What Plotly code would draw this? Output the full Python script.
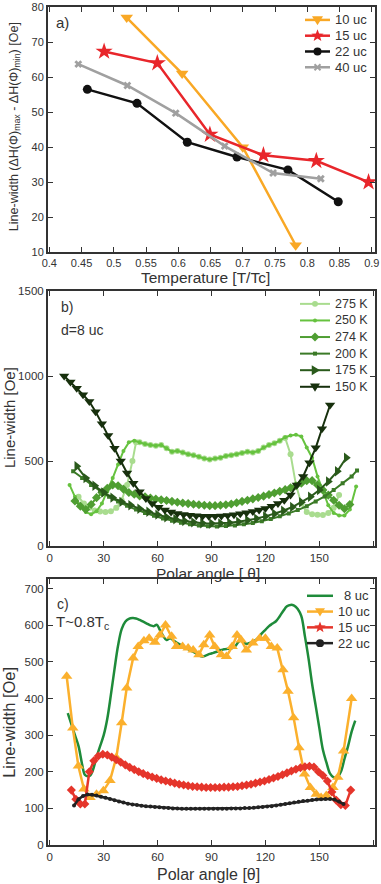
import math
import plotly.graph_objects as go

# ---------------- Panel a data ----------------
t_10uc = [0.52, 0.606, 0.70, 0.782]
dlw_10uc = [77, 61, 40, 12]
t_15uc = [0.485, 0.5675, 0.649, 0.732, 0.814, 0.895]
dlw_15uc = [67.3, 64, 43.6, 37.7, 36.1, 30]
t_22uc = [0.459, 0.536, 0.614, 0.691, 0.770, 0.848]
dlw_22uc = [56.5, 52.5, 41.4, 37.2, 33.5, 24.4]
t_40uc = [0.445, 0.521, 0.596, 0.672, 0.747, 0.821]
dlw_40uc = [63.7, 57.6, 49.7, 40.3, 32.6, 31]

# ---------------- Panel b data (d = 8 uc) ----------------
ang_275 = [16, 19, 22, 25, 28, 31, 34, 37, 40, 43, 46, 48, 50, 53, 56, 59, 62, 65, 68, 71, 74, 77, 80, 83,
           86, 89, 92, 95, 98, 101, 104, 107, 110, 113, 116, 119, 122, 125, 128, 131, 134, 137, 140, 143,
           146, 149, 152, 155, 158, 161]
lw_275 = [290, 250, 225, 210, 203, 200, 205, 225, 270, 360, 500, 610, 610, 600, 595, 590, 595, 575, 555, 560,
          550, 540, 535, 525, 515, 510, 515, 520, 530, 535, 540, 548, 555, 550, 560, 580, 595, 605, 620, 636,
          540, 360, 250, 200, 188, 185, 183, 195, 225, 300]
ang_250 = [11, 14, 17, 20, 23, 26, 29, 32, 35, 38, 41, 44, 47, 50, 53, 56, 59, 62, 65, 68, 71, 74, 77, 80,
           83, 86, 89, 92, 95, 98, 101, 104, 107, 110, 113, 116, 119, 122, 125, 128, 131, 134, 137, 140,
           143, 146, 149, 152, 155, 158, 161, 164, 167, 170.5]
lw_250 = [360, 290, 235, 200, 188, 205, 250, 320, 400, 480, 560, 610, 620, 610, 600, 595, 590, 595, 575, 555,
          560, 550, 540, 535, 525, 515, 510, 515, 520, 530, 535, 540, 548, 555, 550, 560, 580, 595, 605, 620,
          640, 650, 655, 645, 580, 520, 410, 320, 240, 195, 180, 180, 215, 350]
ang_274 = [14, 17, 20, 23, 26, 29, 32, 35, 38, 41, 44, 47, 50, 53, 56, 59, 62, 65, 68, 71, 74, 77, 80, 83,
           86, 89, 92, 95, 98, 101, 104, 107, 110, 113, 116, 119, 122, 125, 128, 131, 134, 137, 140, 143,
           146, 149, 152, 155, 158, 161, 164, 167]
lw_274 = [265, 235, 215, 245, 285, 315, 340, 360, 355, 335, 315, 305, 295, 290, 283, 277, 272, 268, 263, 258,
          254, 250, 246, 243, 240, 238, 238, 240, 243, 248, 255, 263, 270, 278, 286, 294, 303, 312, 322, 332,
          343, 355, 370, 385, 385, 360, 330, 300, 270, 240, 220, 245]
ang_200 = [13, 18, 23, 28, 33, 38, 43, 48, 53, 58, 63, 68, 73, 78, 83, 88, 93, 98, 103, 108, 113, 118, 123,
           128, 133, 138, 143, 148, 153, 158, 163, 168, 171]
lw_200 = [440, 400, 360, 325, 290, 262, 237, 215, 195, 178, 163, 150, 138, 128, 121, 117, 116, 118, 122, 128,
          136, 147, 160, 175, 192, 212, 235, 262, 292, 330, 370, 410, 445]
ang_175 = [15, 20, 25, 30, 35, 40, 45, 50, 55, 60, 65, 70, 75, 80, 85, 90, 95, 100, 105, 110, 115, 120, 125,
           130, 135, 140, 145, 150, 155, 160, 165]
lw_175 = [470, 400, 355, 315, 285, 260, 240, 220, 202, 185, 170, 158, 148, 140, 135, 133, 134, 138, 144, 152,
          162, 175, 190, 208, 230, 258, 290, 330, 380, 440, 520]
ang_150 = [8, 11.5, 15, 18.5, 22, 25.5, 29, 32.5, 36, 39.5, 43, 46.5, 50, 53.5, 57, 60.5, 64, 67.5, 71, 74.5,
           78, 81.5, 85, 88.5, 92, 95.5, 99, 102.5, 106, 109.5, 113, 116.5, 120, 123.5, 127, 130.5, 134,
           137.5, 141, 144.5, 148, 151.5, 156]
lw_150 = [1000, 965, 928, 890, 850, 790, 720, 650, 575, 500, 430, 370, 320, 280, 250, 228, 212, 200, 192, 186,
          182, 178, 176, 175, 175, 177, 180, 185, 190, 196, 203, 212, 222, 235, 250, 270, 300, 360, 410,
          490, 578, 690, 830]

# ---------------- Panel c data (T ~ 0.8 Tc) ----------------
ang_8uc = [10, 12, 14, 16, 18, 19.5, 21, 22.5, 24, 26, 28, 30, 32, 34, 36, 38, 40, 42, 44, 46, 48, 50, 52, 54,
           56, 58, 59.5, 61, 63, 65, 67, 69, 71, 73, 75, 77, 79, 81, 83, 85, 87, 89, 91, 93, 95, 97, 99, 101,
           103, 105, 106.5, 108, 110, 112, 114, 116, 118, 120, 122, 124, 126, 128, 130, 132, 134, 136, 138,
           140, 142, 144, 146, 148, 150, 152, 154, 156, 158, 160, 162, 164, 166, 168, 170]
lw_8uc = [360, 330, 300, 270, 220, 192, 188, 190, 205, 240, 270, 300, 345, 410, 480, 545, 590, 610, 618, 620,
          619, 615, 610, 605, 600, 598, 602, 590, 572, 560, 565, 558, 552, 546, 540, 535, 530, 525, 518, 515,
          518, 522, 525, 528, 532, 535, 536, 537, 542, 555, 560, 552, 550, 553, 558, 566, 578, 588, 598, 605,
          612, 625, 640, 652, 656, 654, 645, 625, 570, 510, 440, 380, 320, 260, 225, 195, 185, 185, 200, 235,
          270, 310, 340]
ang_10uc = [9.4, 12.8, 15.9, 19, 22.4, 26, 29.8, 33.5, 37, 40, 42.8, 46.4, 49.2, 52.4, 55.3, 58.5, 61.3, 64.4,
            67.8, 70.5, 73.9, 77, 79.8, 83, 85.7, 89, 91.8, 95.5, 98.3, 101.5, 104.2, 106.5, 109.4, 113,
            116.8, 120, 123.3, 126.6, 129.8, 132.6, 135.7, 138.7, 141.8, 145, 148.3, 151, 153.9, 157.6,
            160.3, 163.5, 168]
lw_10uc = [461, 320, 216, 153, 130, 139, 148, 176, 239, 334, 429, 511, 542, 558, 565, 554, 574, 601, 570, 542,
           542, 538, 533, 520, 547, 574, 542, 520, 515, 542, 574, 560, 533, 552, 565, 565, 542, 538, 479, 420,
           348, 266, 194, 157, 139, 130, 135, 157, 185, 257, 400]
ang_15uc = [12, 14.5, 17, 19.5, 22, 24.5, 27, 29.5, 32, 34.5, 37, 39.5, 42, 44.5, 47, 49.5, 52, 54.5, 57, 59.5,
            62, 64.5, 67, 69.5, 72, 74.5, 77, 79.5, 82, 84.5, 87, 89.5, 92, 94.5, 97, 99.5, 102, 104.5, 107,
            109.5, 112, 114.5, 117, 119.5, 122, 124.5, 127, 129.5, 132, 134.5, 137, 139.5, 142, 144.5, 147,
            149.5, 152, 154.5, 157, 159.5, 162, 164.5, 167.5]
lw_15uc = [150, 125, 112, 112, 200, 230, 243, 248, 246, 240, 233, 226, 219, 212, 206, 200, 195, 190, 186, 182,
           178, 175, 172, 169, 166, 164, 162, 160, 159, 158, 157, 157, 157, 157, 158, 158, 159, 160, 162, 164,
           166, 169, 172, 175, 179, 183, 187, 192, 197, 202, 207, 211, 214, 215, 213, 200, 190, 175, 145, 122,
           110, 108, 150]
ang_22uc = [13.5, 16, 18.5, 21, 23.5, 26, 28.5, 31, 33.5, 36, 38.5, 41, 43.5, 46, 48.5, 51, 53.5, 56, 58.5, 61,
            63.5, 66, 68.5, 71, 73.5, 76, 78.5, 81, 83.5, 86, 88.5, 91, 93.5, 96, 98.5, 101, 103.5, 106, 108.5,
            111, 113.5, 116, 118.5, 121, 123.5, 126, 128.5, 131, 133.5, 136, 138.5, 141, 143.5, 146, 148.5,
            151, 153.5, 156, 158.5, 161, 163.5]
lw_22uc = [108, 125, 134, 138, 137, 135, 132, 129, 126, 122, 119, 116, 113, 111, 109, 107, 106, 105, 104, 103,
           102, 101, 100, 100, 99, 99, 99, 99, 99, 99, 99, 99, 99, 99, 99, 100, 100, 100, 101, 101, 102, 103,
           104, 105, 106, 108, 110, 112, 114, 116, 118, 120, 121, 123, 124, 125, 126, 126, 124, 119, 112]

# tick values / labels
a_xticks = [0.4, 0.45, 0.5, 0.55, 0.6, 0.65, 0.7, 0.75, 0.8, 0.85, 0.9]
a_yticks = [10, 20, 30, 40, 50, 60, 70, 80]
bc_xticks = [0, 30, 60, 90, 120, 150, 180]
b_yticks = [0, 500, 1000, 1500]
c_yticks = [0, 100, 200, 300, 400, 500, 600, 700]

FONT = "Liberation Sans, Arial, Helvetica, sans-serif"
TXT = "#333333"

# ---- geometry in pixels ----
W, H = 381, 884
ML, MR, MT, MB = 48, 6, 1, 39
PW = W - ML - MR
PH = H - MT - MB


def py(ypx):
    return (H - MB - ypx) / PH


def px(xpx):
    return (xpx - ML) / PW


fig = go.Figure()

# Panel a
c_a = {"10 uc": "#f9a825", "15 uc": "#e8262b", "22 uc": "#111111", "40 uc": "#a0a0a0"}
a_series = [
    ("10 uc", t_10uc, dlw_10uc, "triangle-down", 11),
    ("15 uc", t_15uc, dlw_15uc, "star", 13),
    ("22 uc", t_22uc, dlw_22uc, "circle", 9),
    ("40 uc", t_40uc, dlw_40uc, "x", 7),
]
for name, xs, ys, sym, sz in a_series:
    fig.add_trace(go.Scatter(x=xs, y=ys, name=name, mode="lines+markers", xaxis="x", yaxis="y",
                             line=dict(color=c_a[name], width=2.5),
                             marker=dict(symbol=sym, size=sz, color=c_a[name]), showlegend=False))

# Panel b
b_series = [
    ("275 K", ang_275, lw_275, "#a9dc8f", "circle", 6),
    ("250 K", ang_250, lw_250, "#66c23f", "circle", 4),
    ("274 K", ang_274, lw_274, "#4f9e32", "diamond", 7),
    ("200 K", ang_200, lw_200, "#3b7a27", "square", 4),
    ("175 K", ang_175, lw_175, "#2a5a1b", "triangle-right", 9),
    ("150 K", ang_150, lw_150, "#17300d", "triangle-down", 9),
]
for name, xs, ys, col, sym, sz in b_series:
    fig.add_trace(go.Scatter(x=xs, y=ys, name=name, mode="lines+markers", xaxis="x2", yaxis="y2",
                             line=dict(color=col, width=2),
                             marker=dict(symbol=sym, size=sz, color=col), showlegend=False))

# Panel c
c_c = {"8 uc": "#1e8b3a", "10 uc": "#fbb02d", "15 uc": "#e5352b", "22 uc": "#222222"}
fig.add_trace(go.Scatter(x=ang_8uc, y=lw_8uc, name="8 uc", mode="lines", xaxis="x3", yaxis="y3",
                         line=dict(color=c_c["8 uc"], width=2.5, shape="spline"), showlegend=False))
fig.add_trace(go.Scatter(x=ang_10uc, y=lw_10uc, name="10 uc", mode="lines+markers", xaxis="x3", yaxis="y3",
                         line=dict(color=c_c["10 uc"], width=2.5),
                         marker=dict(symbol="triangle-up", size=10, color=c_c["10 uc"]), showlegend=False))
fig.add_trace(go.Scatter(x=ang_15uc, y=lw_15uc, name="15 uc", mode="lines+markers", xaxis="x3", yaxis="y3",
                         line=dict(color=c_c["15 uc"], width=2.5),
                         marker=dict(symbol="diamond", size=7, color=c_c["15 uc"]), showlegend=False))
fig.add_trace(go.Scatter(x=ang_22uc, y=lw_22uc, name="22 uc", mode="lines+markers", xaxis="x3", yaxis="y3",
                         line=dict(color=c_c["22 uc"], width=2.5),
                         marker=dict(symbol="circle", size=4, color=c_c["22 uc"]), showlegend=False))


def axis_style(**kw):
    d = dict(showline=True, linecolor="#333333", linewidth=2, mirror="ticks", ticks="inside", ticklen=5,
             tickwidth=1.2, tickcolor="#333333", showgrid=False, zeroline=False,
             tickfont=dict(family=FONT, size=11.5, color=TXT))
    d.update(kw)
    return d


dom_a = [py(248), 1.0]
dom_b = [py(544), py(287)]
dom_c = [0.0, py(577)]

fig.update_layout(
    width=W, height=H, margin=dict(l=ML, r=MR, t=MT, b=MB),
    paper_bgcolor="white", plot_bgcolor="white", showlegend=False,
    font=dict(family=FONT, color=TXT),
    xaxis=axis_style(domain=[0, 1], anchor="y", range=[0.398, 0.905], tickvals=a_xticks,
                     ticktext=[str(v) for v in a_xticks], tickfont=dict(family=FONT, size=11, color=TXT)),
    yaxis=axis_style(domain=dom_a, anchor="x", range=[10, 80], tickvals=a_yticks,
                     tickfont=dict(family=FONT, size=11, color=TXT)),
    xaxis2=axis_style(domain=[0, 1], anchor="y2", range=[-1, 181], tickvals=bc_xticks),
    yaxis2=axis_style(domain=dom_b, anchor="x2", range=[0, 1500], tickvals=b_yticks),
    xaxis3=axis_style(domain=[0, 1], anchor="y3", range=[-1, 181], tickvals=bc_xticks),
    yaxis3=axis_style(domain=dom_c, anchor="x3", range=[0, 727], tickvals=c_yticks),
)

ann = []
shapes = []


def add_text(text, xpx, ypx, size, xanchor="left", angle=0):
    ann.append(dict(text=text, x=px(xpx), y=py(ypx), xref="paper", yref="paper", showarrow=False,
                    xanchor=xanchor, yanchor="middle", textangle=angle,
                    font=dict(family=FONT, size=size, color=TXT)))


def poly_path(pts):
    return "M " + " L ".join(f"{px(x):.5f},{py(y):.5f}" for x, y in pts) + " Z"


def key_marker(sym, cx, cy, r, col):
    """Legend key symbol drawn as a layout shape (pixel geometry -> paper)."""
    if sym == "circle":
        shapes.append(dict(type="circle", xref="paper", yref="paper", x0=px(cx - r), x1=px(cx + r),
                           y0=py(cy + r), y1=py(cy - r), fillcolor=col, line=dict(width=0)))
        return
    if sym == "triangle-down":
        pts = [(cx - r, cy - 0.65 * r), (cx + r, cy - 0.65 * r), (cx, cy + r)]
    elif sym == "triangle-right":
        pts = [(cx - 0.65 * r, cy - r), (cx - 0.65 * r, cy + r), (cx + r, cy)]
    elif sym == "diamond":
        pts = [(cx, cy - r), (cx + r, cy), (cx, cy + r), (cx - r, cy)]
    elif sym == "square":
        pts = [(cx - r, cy - r), (cx + r, cy - r), (cx + r, cy + r), (cx - r, cy + r)]
    elif sym == "star":
        pts = []
        for k in range(10):
            rr = r if k % 2 == 0 else 0.42 * r
            a = -math.pi / 2 + k * math.pi / 5
            pts.append((cx + rr * math.cos(a), cy + rr * math.sin(a)))
    elif sym == "x":
        for s in (1, -1):
            shapes.append(dict(type="line", xref="paper", yref="paper", x0=px(cx - r), x1=px(cx + r),
                               y0=py(cy - s * r), y1=py(cy + s * r), line=dict(color=col, width=2)))
        return
    else:
        return
    shapes.append(dict(type="path", xref="paper", yref="paper", path=poly_path(pts), fillcolor=col,
                       line=dict(width=0)))


def draw_key(entries, x0, x1, y_first, dy, text_x, size, lw):
    for i, (name, col, sym, r, tx_off) in enumerate(entries):
        y = y_first + i * dy
        shapes.append(dict(type="line", xref="paper", yref="paper", x0=px(x0), x1=px(x1), y0=py(y), y1=py(y),
                           line=dict(color=col, width=lw)))
        if sym:
            key_marker(sym, (x0 + x1) / 2, y, r, col)
        add_text(name, text_x + tx_off, y, size)


# legend keys (symbols as shown in the original legends)
draw_key([(n, c_a[n], s, r, 0) for n, s, r in
          [("10 uc", "triangle-down", 5.5), ("15 uc", "star", 6.5), ("22 uc", "circle", 4), ("40 uc", "x", 3)]],
         305, 330, 14, 15.9, 333, 13, 2.5)
draw_key([(n, c, s, r, 0) for n, c, s, r in
          [("275 K", b_series[0][3], "circle", 3), ("250 K", b_series[1][3], "circle", 2),
           ("274 K", b_series[2][3], "diamond", 4.5), ("200 K", b_series[3][3], "square", 2),
           ("175 K", b_series[4][3], "triangle-right", 5), ("150 K", b_series[5][3], "triangle-down", 5)]],
         300, 330, 300, 16.7, 333, 12.5, 2)
draw_key([("8 uc", c_c["8 uc"], None, 0, 6), ("10 uc", c_c["10 uc"], "triangle-down", 5, 0),
          ("15 uc", c_c["15 uc"], "star", 6, 0), ("22 uc", c_c["22 uc"], "circle", 4, 0)],
         307, 333, 594, 15.9, 336, 13, 2.5)

add_text("a)", 54, 17, 15)
add_text("b)", 59, 303, 14)
add_text("d=8 uc", 59, 326, 14)
add_text("c)", 55, 602, 14)
add_text("T~0.8T<sub>c</sub>", 54, 621, 15)
# axis titles
add_text("Temperature [T/Tc]", 205, 273, 15.5, xanchor="center")
add_text("Polar angle [ θ]", 208, 572, 15.5, xanchor="center")
add_text("Polar angle [θ]", 208, 875, 16, xanchor="center")
add_text("Line-width (ΔH(Φ)<sub>max</sub> - ΔH(Φ)<sub>min</sub>) [Oe]", 15, 122, 12.5, xanchor="center", angle=-90)
add_text("Line-width [Oe]", 9, 415, 15, xanchor="center", angle=-90)
add_text("Line-width [Oe]", 9, 722, 16.5, xanchor="center", angle=-90)
fig.update_layout(annotations=ann, shapes=shapes)

fig.write_html("out.html", config={"displayModeBar": False},
               post_script="document.body.style.margin='0px';")
